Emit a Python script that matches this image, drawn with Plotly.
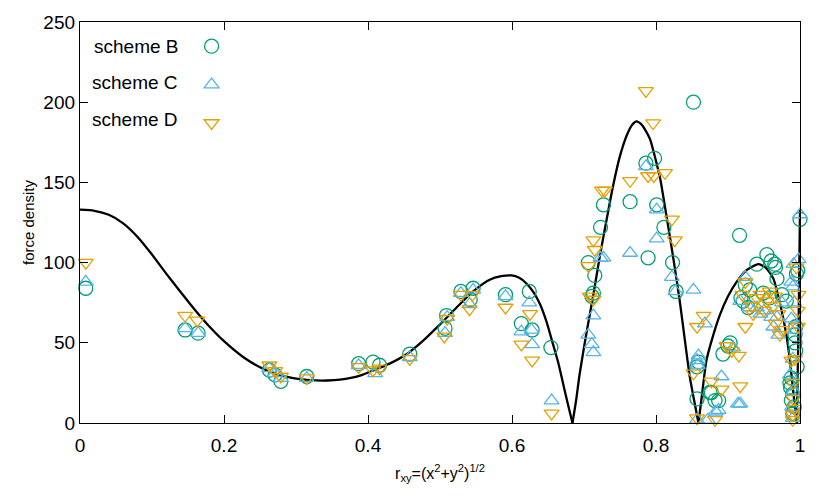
import plotly.graph_objects as go

# curve, split at its zeros into arches
curve_x = [0, 0.02, 0.04, 0.06, 0.08, 0.1, 0.12, 0.14, 0.16, 0.18, 0.2, 0.227, 0.25, 0.273,
           0.296, 0.32, 0.343, 0.361, 0.389, 0.407, 0.43, 0.454, 0.477, 0.5, 0.523, 0.546,
           0.569, 0.585, 0.5995, 0.61, 0.62, 0.63, 0.639, 0.648, 0.657, 0.664, 0.671, 0.678,
           0.684, 0.689, 0.694, 0.703, 0.713, 0.722, 0.7315, 0.74, 0.75, 0.76, 0.767, 0.773,
           0.78, 0.786, 0.792, 0.799, 0.806, 0.812, 0.819, 0.826, 0.833, 0.84, 0.847, 0.853,
           0.859, 0.864, 0.87, 0.879, 0.889, 0.9, 0.912, 0.925, 0.942, 0.952, 0.963, 0.9745,
           0.981, 0.986, 0.991, 0.9955, 0.998, 1.0]
curve_y = [133, 132.3, 129.8, 124.5, 116, 105, 93, 81.5, 70.3, 60, 51, 41, 34.8, 30.5,
           28, 26.7, 26.5, 27, 29.5, 32.7, 37, 43, 51.5, 61.5, 72, 82,
           89.3, 91.5, 92, 90.5, 87, 81.5, 74, 63, 49, 38, 24.5, 11,
           0, 14, 30.7, 55, 80, 104, 127, 147, 166.5, 180, 186, 188,
           186, 182, 176.7, 165, 152, 136, 117, 97, 76, 52, 28.6, 14,
           0, 18, 38.9, 54, 67.7, 79, 88, 95, 99, 97, 90, 70,
           55, 39, 18, 0, 60, 133]

# scheme B
b_x = [0.008, 0.146, 0.164, 0.263, 0.271, 0.279, 0.315, 0.387, 0.407, 0.416, 0.458, 0.507,
       0.509, 0.529, 0.546, 0.542, 0.591, 0.624, 0.613, 0.628, 0.654, 0.727, 0.723, 0.706,
       0.715, 0.713, 0.711, 0.764, 0.789, 0.786, 0.798, 0.801, 0.811, 0.823, 0.828, 0.852,
       0.859, 0.857, 0.877, 0.887, 0.903, 0.893, 0.916, 0.940, 0.954, 0.960, 0.966, 0.924,
       0.93, 0.918, 0.928, 0.921, 0.968, 0.975, 0.949, 0.958, 1.0, 0.997, 0.995, 0.993,
       0.993, 0.994, 0.988, 0.987, 0.99, 0.988, 0.992, 0.99, 0.996, 0.994, 0.857, 0.875,
       0.882, 0.9, 0.981, 0.986, 0.965]
b_y = [84, 58, 56, 33, 30, 26, 29, 37, 38, 36, 43, 59,
       67, 82, 84, 77, 80, 82, 62, 58, 47, 136, 122, 100,
       92, 81, 79, 138, 103, 162, 165, 136, 122, 100, 82, 200,
       38, 15, 19, 14, 50, 43, 117, 99, 105, 101, 97, 86,
       83, 78, 72, 76, 90, 80, 81, 78, 127, 95, 93, 55,
       50, 45, 28, 22, 18, 14, 10, 6, 35, 60, 35, 19,
       14, 48, 76, 25, 99]

# scheme C
c_x = [0.008, 0.146, 0.164, 0.263, 0.271, 0.279, 0.315, 0.387, 0.41, 0.458, 0.507, 0.51,
       0.529, 0.546, 0.541, 0.591, 0.624, 0.613, 0.628, 0.627, 0.655, 0.727, 0.723, 0.713,
       0.706, 0.711, 0.713, 0.764, 0.786, 0.801, 0.801, 0.822, 0.827, 0.852, 0.857, 0.858,
       0.868, 0.891, 0.887, 0.917, 0.857, 0.872, 0.924, 0.917, 0.940, 0.963, 0.907, 0.991,
       1.0, 0.99, 0.992, 0.988, 0.993, 0.99, 0.986, 0.991, 0.989, 0.99, 0.95, 0.96,
       0.975, 0.97, 0.93, 0.945, 0.859, 0.883, 0.914, 0.998, 0.988, 0.968]
c_y = [88, 59, 56, 34, 31, 28, 28, 36, 31, 41, 56, 66,
       81, 83, 74, 79, 75, 57, 49, 58, 14, 103, 103, 67,
       55, 49, 44, 106, 160, 133, 115, 91, 82, 83, 39, 36,
       62, 29, 8, 12, 2, 2, 91, 76, 72, 60, 47, 99,
       130, 85, 75, 65, 58, 40, 30, 20, 10, 3, 70, 66,
       75, 55, 72, 68, 42, 7, 12, 102, 88, 66]

# scheme D
d_x = [0.008, 0.146, 0.163, 0.263, 0.271, 0.279, 0.315, 0.387, 0.407, 0.416, 0.458, 0.506,
       0.51, 0.529, 0.545, 0.541, 0.591, 0.625, 0.613, 0.628, 0.655, 0.786, 0.796, 0.764,
       0.725, 0.729, 0.789, 0.797, 0.8125, 0.822, 0.826, 0.713, 0.715, 0.706, 0.708, 0.713,
       0.857, 0.866, 0.852, 0.857, 0.877, 0.891, 0.917, 0.882, 0.905, 0.915, 0.924, 0.933,
       0.924, 0.954, 0.963, 0.966, 0.972, 0.995, 0.997, 0.993, 0.991, 0.99, 0.998, 0.965,
       0.958, 0.945, 0.94, 0.97, 0.988, 0.992, 0.99, 0.975, 0.95, 0.935, 0.92, 0.898,
       0.99, 0.997]
d_y = [100, 67, 64, 36, 32.5, 29, 28, 35, 33, 34, 40, 54,
       65, 80, 80, 71, 72, 68, 49, 39, 6, 207, 187, 151,
       145, 145, 154, 154, 156, 127, 114, 114, 108, 98, 79, 77,
       60, 67, 31, 3, 26, 21, 23, 2, 45, 42, 88, 73,
       60, 76, 73, 62, 55, 97, 70, 40, 15, 2, 80, 79,
       82, 80, 78, 68, 39, 9, 5, 58, 70, 68, 80, 48,
       25, 60]

legend_labels = ["scheme B", "scheme C", "scheme D"]

fig = go.Figure()

# one smooth trace per arch so the cusps at the zeros stay sharp
zero_idx = [i for i, v in enumerate(curve_y) if v == 0]
bounds = [0] + zero_idx + [len(curve_x) - 1]
for a, b in zip(bounds[:-1], bounds[1:]):
    fig.add_trace(go.Scatter(x=curve_x[a:b + 1], y=curve_y[a:b + 1], mode="lines",
                             line=dict(color="black", width=2.3, shape="spline", smoothing=0.6),
                             showlegend=False, hoverinfo="skip"))

series = [(b_x, b_y, "circle-open", "#009e73", 14),
          (c_x, c_y, "triangle-up-open", "#56b4e9", 13),
          (d_x, d_y, "triangle-down-open", "#e69f00", 13)]
for i, (xs, ys, sym, col, sz) in enumerate(series):
    fig.add_trace(go.Scatter(
        x=xs, y=ys, mode="markers", name=" ", legendgroup=str(i),
        marker=dict(symbol=sym, size=sz, color=col, line=dict(color=col, width=1.3)),
        cliponaxis=False))

# gnuplot style key: text left of the symbol
for i, lab in enumerate(legend_labels):
    fig.add_annotation(text=lab, xref="paper", yref="paper", x=0.139, y=0.940 - i * 0.0915,
                       xanchor="right", yanchor="middle", showarrow=False,
                       font=dict(size=19, color="black"))

axis_common = dict(showgrid=False, zeroline=False, showline=True, linecolor="black",
                   linewidth=1.3, mirror="ticks", ticks="inside", ticklen=8,
                   tickcolor="black", tickwidth=1.3, automargin=False,
                   tickfont=dict(size=19, color="black"))

# the page body shifts the figure by 8px; margins compensate
fig.update_layout(
    width=830, height=498,
    margin=dict(l=72, r=38, t=14, b=83),
    paper_bgcolor="white", plot_bgcolor="white",
    font=dict(family="Liberation Sans, Arial, sans-serif", color="black"),
    xaxis=dict(range=[0, 1], tickvals=[0, 0.2, 0.4, 0.6, 0.8, 1],
               ticktext=["0", "0.2", "0.4", "0.6", "0.8", "1"], ticklabelstandoff=5,
               title=dict(text="r<sub>xy</sub>=(x<sup>2</sup>+y<sup>2</sup>)<sup>1/2</sup>",
                          font=dict(size=16), standoff=12),
               **axis_common),
    yaxis=dict(range=[0, 250], tickvals=[0, 50, 100, 150, 200, 250],
               title=dict(text="force density", font=dict(size=15), standoff=5),
               **axis_common),
    legend=dict(x=0.155, y=0.985, xanchor="left", yanchor="top",
                bgcolor="rgba(0,0,0,0)", tracegroupgap=12, font=dict(size=18),
                itemwidth=30),
)

fig.write_html("out.html")
